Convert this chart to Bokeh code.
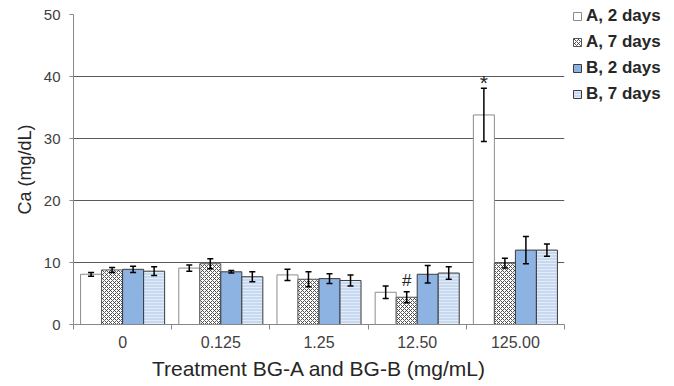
from bokeh.plotting import figure
from bokeh.models import (ColumnDataSource, FixedTicker, Whisker, TeeHead, Legend, LegendItem,
                          Range1d, Label)
from bokeh.embed import file_html
from bokeh.resources import INLINE

categories = ["0", "0.125", "1.25", "12.50", "125.00"]
series = ["A, 2 days", "A, 7 days", "B, 2 days", "B, 7 days"]
values = {
    "A, 2 days": [8.1, 9.1, 8.0, 5.2, 33.8],
    "A, 7 days": [8.8, 9.8, 7.3, 4.4, 9.9],
    "B, 2 days": [8.9, 8.5, 7.4, 8.1, 12.0],
    "B, 7 days": [8.6, 7.7, 7.1, 8.3, 12.0],
}
errors = {
    "A, 2 days": [0.3, 0.5, 0.9, 1.0, 4.3],
    "A, 7 days": [0.4, 0.8, 1.2, 0.9, 0.8],
    "B, 2 days": [0.5, 0.2, 0.8, 1.4, 2.2],
    "B, 7 days": [0.7, 0.8, 0.9, 1.0, 1.0],
}
# significance markers: (series, category, symbol)
markers = [("A, 2 days", "125.00", "*"), ("A, 7 days", "12.50", "#")]
y_ticks = [0, 10, 20, 30, 40, 50]

styles = {
    "A, 2 days": dict(fill_color="white", line_color="#8c8c8c"),
    "A, 7 days": dict(fill_color="white", line_color="#555555", hatch_pattern="diagonal_cross",
                      hatch_color="#404040", hatch_scale=4, hatch_weight=0.9),
    "B, 2 days": dict(fill_color="#8db3e2", line_color="#3b3b3b"),
    "B, 7 days": dict(fill_color="#c6d9f1", line_color="#3b3b3b", hatch_pattern="horizontal_line",
                      hatch_color="white", hatch_scale=3, hatch_weight=1, hatch_alpha=0.5),
}

FONT = "Liberation Sans"
p = figure(frame_width=491, frame_height=310, output_backend="svg", toolbar_location=None,
           x_range=Range1d(0, len(categories)), y_range=Range1d(0, 50),
           min_border_left=73, min_border_top=14, min_border_bottom=0, min_border_right=0)
p.outline_line_color = None
p.background_fill_color = "white"

bw = 0.214
items = []
for k, s in enumerate(series):
    off = (k - 1.5) * bw
    xs = [i + 0.5 + off for i in range(len(categories))]
    src = ColumnDataSource(dict(x=xs, top=values[s],
                                upper=[v + e for v, e in zip(values[s], errors[s])],
                                lower=[v - e for v, e in zip(values[s], errors[s])]))
    r = p.vbar(x="x", top="top", bottom=0, width=bw, source=src, line_width=1, **styles[s])
    items.append(LegendItem(label=s, renderers=[r]))
    w = Whisker(base="x", upper="upper", lower="lower", source=src, line_color="black",
                line_width=1.5, level="annotation",
                upper_head=TeeHead(size=6, line_color="black", line_width=1.5),
                lower_head=TeeHead(size=6, line_color="black", line_width=1.5))
    p.add_layout(w)

for s, c, sym in markers:
    k = series.index(s)
    j = categories.index(c)
    x = j + 0.5 + (k - 1.5) * bw
    y = values[s][j] + errors[s][j]
    p.add_layout(Label(x=x, y=y, text=sym, text_align="center", text_baseline="bottom",
                       text_font=FONT, text_font_size=("21px" if sym == "*" else "17px"),
                       text_color="#222222", y_offset=(-6 if sym == "*" else 2)))

# axes
p.xaxis.ticker = FixedTicker(ticks=[i + 0.5 for i in range(len(categories))],
                             minor_ticks=list(range(len(categories) + 1)))
p.xaxis.major_label_overrides = {i + 0.5: c for i, c in enumerate(categories)}
p.xaxis.major_tick_line_color = None
p.xaxis.major_tick_out = 0
p.xaxis.major_tick_in = 0
p.xaxis.minor_tick_line_color = "#888888"
p.xaxis.minor_tick_out = 5
p.xaxis.minor_tick_in = 0
p.xaxis.axis_line_color = "#888888"
p.xaxis.major_label_text_font = FONT
p.xaxis.major_label_text_font_size = "16px"
p.xaxis.major_label_text_color = "#404040"
p.xaxis.major_label_standoff = 6
p.xaxis.axis_label = "Treatment BG-A and BG-B (mg/mL)"
p.xaxis.axis_label_text_font = FONT
p.xaxis.axis_label_text_font_size = "21px"
p.xaxis.axis_label_text_font_style = "normal"
p.xaxis.axis_label_text_color = "#262626"
p.xaxis.axis_label_standoff = 6

p.yaxis.ticker = FixedTicker(ticks=y_ticks, minor_ticks=[])
p.yaxis.axis_line_color = "#888888"
p.yaxis.major_tick_line_color = "#888888"
p.yaxis.major_tick_out = 4
p.yaxis.major_tick_in = 0
p.yaxis.major_label_text_font = FONT
p.yaxis.major_label_text_font_size = "15px"
p.yaxis.major_label_text_color = "#404040"
p.yaxis.major_label_standoff = 9
p.yaxis.axis_label = "Ca (mg/dL)"
p.yaxis.axis_label_text_font = FONT
p.yaxis.axis_label_text_font_size = "18px"
p.yaxis.axis_label_text_font_style = "normal"
p.yaxis.axis_label_text_color = "#262626"
p.yaxis.axis_label_standoff = 6

p.xgrid.grid_line_color = None
p.ygrid.grid_line_color = "#5a5a5a"
p.ygrid.grid_line_width = 1

legend = Legend(items=items, location=(8, 220), border_line_color=None,
                background_fill_alpha=0, label_text_font=FONT,
                label_text_font_size="17px", label_text_font_style="bold",
                label_text_color="#262626", glyph_width=10, glyph_height=10,
                label_standoff=4, spacing=6, padding=0, margin=0, label_height=20)
p.add_layout(legend, "right")

open("out.html", "w").write(file_html(p, INLINE))
